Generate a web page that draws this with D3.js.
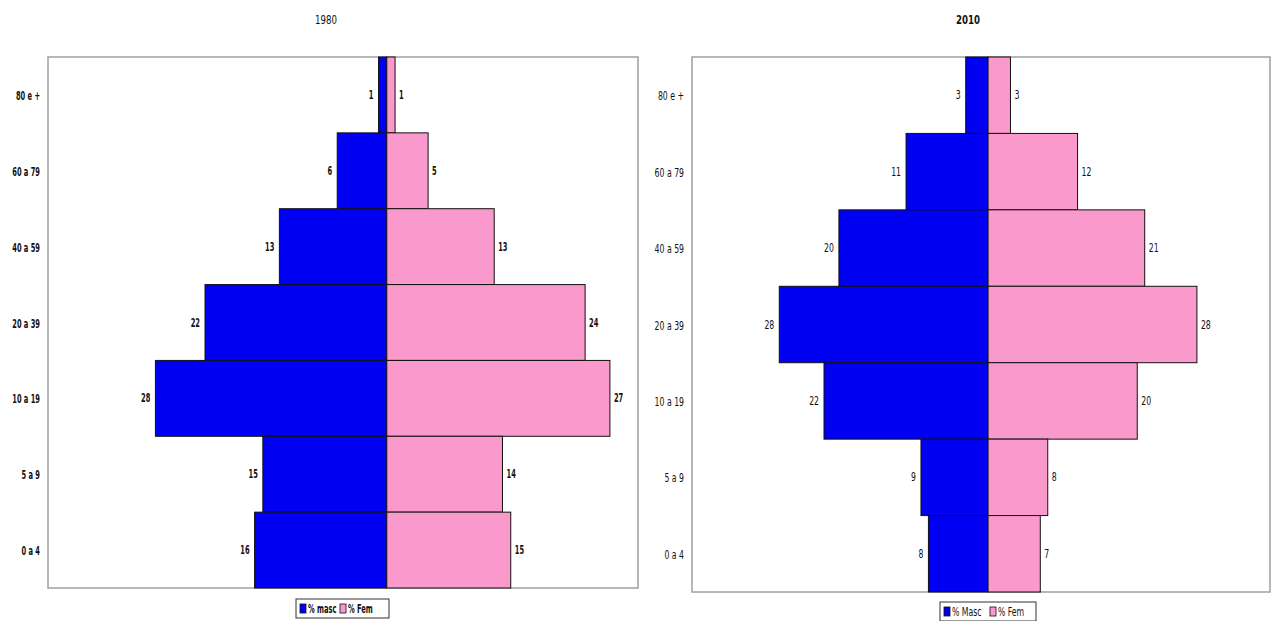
<!DOCTYPE html>
<html>
<head>
<meta charset="utf-8">
<script src="https://cdn.jsdelivr.net/npm/d3@7"></script>
<style>
  html, body { margin: 0; padding: 0; background: #fff; }
  svg { display: block; }
</style>
</head>
<body>
<svg id="chart" width="1273" height="621"></svg>
<script>
// Age groups, top to bottom
const ageGroups = ["80 e +", "60 a 79", "40 a 59", "20 a 39", "10 a 19", "5 a 9", "0 a 4"];

// 1980 population shares (%)
const masc1980 = [1, 6, 13, 22, 28, 15, 16];
const fem1980  = [1, 5, 13, 24, 27, 14, 15];

// 2010 population shares (%)
const masc2010 = [3, 11, 20, 28, 22, 9, 8];
const fem2010  = [3, 12, 21, 28, 20, 8, 7];

const svg = d3.select("#chart");

const colMasc = "#0000f2";
const colFem = "#fa99cc";
const FONT = "'DejaVu Sans Condensed', 'Liberation Sans', sans-serif";

// squeeze text horizontally around its own anchor point
function narrow(sel, s) {
  sel.each(function () {
    const t = d3.select(this);
    const x = +t.attr("x") || 0;
    const y = +t.attr("y") || 0;
    t.attr("x", 0).attr("y", 0)
      .attr("transform", `translate(${x},${y}) scale(${s},1)`);
  });
}

function pyramid(opts) {
  const { title, masc, fem, box, domain, weight, squeeze, legendX, legendY, legendW, fx, legendLabels, titleX, titleWeight } = opts;
  const g = svg.append("g");

  const x = d3.scaleLinear().domain(domain).range([box.x0, box.x1]);
  const y = d3.scaleBand().domain(ageGroups).range([box.y0, box.y1]).padding(0);

  // plot frame
  g.append("rect")
    .attr("x", box.x0).attr("y", box.y0)
    .attr("width", box.x1 - box.x0).attr("height", box.y1 - box.y0)
    .attr("fill", "#fff").attr("stroke", "#a0a0a0").attr("stroke-width", 1.5);

  // title
  g.append("text")
    .attr("x", titleX).attr("y", 24)
    .attr("text-anchor", "middle")
    .attr("font-family", FONT).attr("font-weight", titleWeight)
    .attr("font-size", 12).attr("fill", "#111")
    .text(title)
    .call(narrow, 0.8);

  // male bars (to the left of zero)
  g.selectAll(".masc").data(masc).join("rect")
    .attr("x", d => x(-d)).attr("y", (d, i) => y(ageGroups[i]))
    .attr("width", d => x(0) - x(-d)).attr("height", y.bandwidth())
    .attr("fill", colMasc).attr("stroke", "#111").attr("stroke-width", 1);

  // female bars (to the right of zero)
  g.selectAll(".fem").data(fem).join("rect")
    .attr("x", x(0)).attr("y", (d, i) => y(ageGroups[i]))
    .attr("width", d => x(d) - x(0)).attr("height", y.bandwidth())
    .attr("fill", colFem).attr("stroke", "#111").attr("stroke-width", 1);

  // value labels
  g.selectAll(".mlab").data(masc).join("text")
    .attr("x", d => x(-d) - 5).attr("y", (d, i) => y(ageGroups[i]) + y.bandwidth() / 2 + 4)
    .attr("text-anchor", "end")
    .attr("font-family", FONT).attr("font-weight", weight)
    .attr("font-size", 12).attr("fill", "#111")
    .text(d => d)
    .call(narrow, squeeze);

  g.selectAll(".flab").data(fem).join("text")
    .attr("x", d => x(d) + 4).attr("y", (d, i) => y(ageGroups[i]) + y.bandwidth() / 2 + 4)
    .attr("text-anchor", "start")
    .attr("font-family", FONT).attr("font-weight", weight)
    .attr("font-size", 12).attr("fill", "#111")
    .text(d => d)
    .call(narrow, squeeze);

  // category axis on the left
  const yAxis = d3.axisLeft(y).tickSize(0).tickPadding(8);
  const ax = g.append("g").attr("transform", `translate(${box.x0},0)`).call(yAxis);
  ax.select(".domain").remove();
  ax.selectAll("text")
    .attr("font-family", FONT).attr("font-weight", weight)
    .attr("font-size", 12).attr("fill", "#111")
    .attr("dy", null).attr("y", 5)
    .call(narrow, squeeze);

  // legend
  const lg = g.append("g").attr("transform", `translate(${legendX},${legendY})`);
  lg.append("rect").attr("x", 0).attr("y", 0).attr("width", legendW).attr("height", 19)
    .attr("fill", "#fff").attr("stroke", "#333").attr("stroke-width", 1);
  lg.append("rect").attr("x", 4).attr("y", 5).attr("width", 6).attr("height", 9)
    .attr("fill", colMasc).attr("stroke", "#111").attr("stroke-width", 0.8);
  lg.append("text").attr("x", 12).attr("y", 14)
    .attr("font-family", FONT).attr("font-weight", weight).attr("font-size", 12).attr("fill", "#111")
    .text(legendLabels[0])
    .call(narrow, squeeze);
  lg.append("rect").attr("x", fx).attr("y", 5).attr("width", 6).attr("height", 9)
    .attr("fill", colFem).attr("stroke", "#111").attr("stroke-width", 0.8);
  lg.append("text").attr("x", fx + 8).attr("y", 14)
    .attr("font-family", FONT).attr("font-weight", weight).attr("font-size", 12).attr("fill", "#111")
    .text(legendLabels[1])
    .call(narrow, squeeze);
}

pyramid({
  title: "1980",
  titleX: 326,
  titleWeight: "normal",
  masc: masc1980, fem: fem1980,
  box: { x0: 48, x1: 638, y0: 57, y1: 588 },
  domain: [-41, 30.4],
  weight: "bold",
  squeeze: 0.62,
  legendX: 296, legendY: 599, legendW: 93, fx: 44,
  legendLabels: ["% masc", "% Fem"]
});

pyramid({
  title: "2010",
  titleX: 968,
  titleWeight: "bold",
  masc: masc2010, fem: fem2010,
  box: { x0: 692, x1: 1270, y0: 57, y1: 592 },
  domain: [-39.7, 37.8],
  weight: "normal",
  squeeze: 0.72,
  legendX: 940, legendY: 602, legendW: 96, fx: 50,
  legendLabels: ["% Masc", "% Fem"]
});
</script>
</body>
</html>
